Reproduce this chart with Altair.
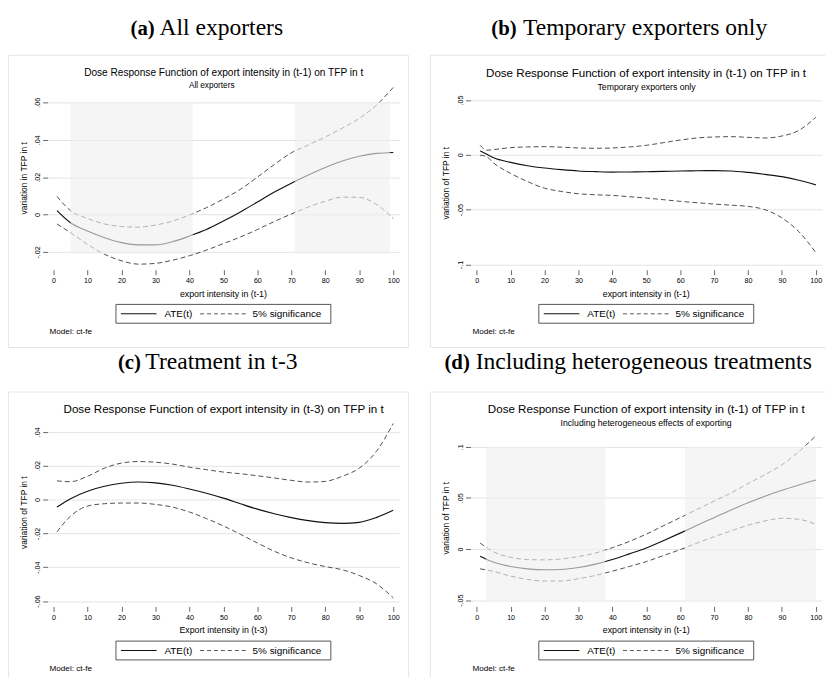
import altair as alt
import pandas as pd

# ---------------- data ----------------
X_TICKS = [0, 10, 20, 30, 40, 50, 60, 70, 80, 90, 100]
LEGEND_LABELS = ["ATE(t)", "5% significance"]
NOTE = "Model: ct-fe"

# (a) All exporters
a_x = [1, 5, 10, 15, 20, 25, 30, 35, 40, 45, 50, 55, 60, 65, 70, 75, 80, 85, 90, 95, 100]
a_ate = [0.0021, -0.0044, -0.0088, -0.0124, -0.0150, -0.0162, -0.0162, -0.0145, -0.0115, -0.0080, -0.0035,
         0.0014, 0.0067, 0.0120, 0.0168, 0.0212, 0.0252, 0.0286, 0.0312, 0.0327, 0.0332]
a_hi = [0.0097, 0.0021, -0.0021, -0.0050, -0.0064, -0.0067, -0.0056, -0.0035, -0.0002, 0.0037, 0.0083,
        0.0135, 0.0200, 0.0268, 0.0330, 0.0372, 0.0415, 0.0462, 0.0514, 0.0584, 0.0680]
a_lo = [-0.0050, -0.0097, -0.0159, -0.0212, -0.0247, -0.0265, -0.0261, -0.0244, -0.0220, -0.0190, -0.0155,
        -0.0120, -0.0080, -0.0037, 0.0003, 0.0040, 0.0071, 0.0093, 0.0092, 0.0055, -0.0021]
a_yticks = [-0.02, 0, 0.02, 0.04, 0.06]
a_shade_from = [5, 71]
a_shade_to = [41, 99]
a_shade_y = [-0.021, 0.06]

# (b) Temporary exporters only
b_x = [1, 3, 5, 10, 15, 20, 25, 30, 35, 40, 45, 50, 55, 60, 65, 70, 75, 80, 85, 90, 95, 100]
b_ate = [0.0036, 0.0005, -0.0027, -0.0069, -0.0099, -0.0120, -0.0135, -0.0147, -0.0153, -0.0157, -0.0156,
         -0.0154, -0.0151, -0.0147, -0.0145, -0.0144, -0.0147, -0.0160, -0.0178, -0.0199, -0.0232, -0.0274]
b_hi = [0.0087, 0.0042, 0.0048, 0.0066, 0.0072, 0.0075, 0.0070, 0.0063, 0.0060, 0.0063, 0.0072,
        0.0087, 0.0111, 0.0135, 0.0154, 0.0163, 0.0166, 0.0160, 0.0154, 0.0172, 0.0223, 0.0343]
b_lo = [-0.0003, -0.0018, -0.0075, -0.0169, -0.0244, -0.0304, -0.0334, -0.0355, -0.0364, -0.0370, -0.0382,
        -0.0394, -0.0409, -0.0424, -0.0437, -0.0449, -0.0459, -0.0470, -0.0500, -0.0575, -0.0701, -0.0891]
b_yticks = [-0.1, -0.05, 0, 0.05]

# (c) Treatment in t-3
c_x = [1, 5, 10, 15, 20, 25, 30, 35, 40, 45, 50, 55, 60, 65, 70, 75, 80, 85, 90, 95, 100]
c_ate = [-0.0045, 0.0005, 0.0049, 0.0078, 0.0096, 0.0103, 0.0098, 0.0084, 0.0062, 0.0037, 0.0008,
         -0.0025, -0.0057, -0.0084, -0.0107, -0.0125, -0.0137, -0.0141, -0.0135, -0.0107, -0.0064]
c_hi = [0.0110, 0.0105, 0.0137, 0.0185, 0.0215, 0.0224, 0.0220, 0.0209, 0.0191, 0.0176, 0.0162,
        0.0152, 0.0140, 0.0127, 0.0113, 0.0103, 0.0107, 0.0137, 0.0185, 0.0283, 0.0449]
c_lo = [-0.0191, -0.0098, -0.0039, -0.0025, -0.0021, -0.0021, -0.0029, -0.0045, -0.0074, -0.0113, -0.0156,
        -0.0205, -0.0257, -0.0306, -0.0345, -0.0374, -0.0396, -0.0415, -0.0449, -0.0497, -0.0581]
c_yticks = [-0.06, -0.04, -0.02, 0, 0.02, 0.04]

# (d) Including heterogeneous treatments
d_x = [1, 5, 10, 15, 20, 25, 30, 35, 40, 45, 50, 55, 60, 65, 70, 75, 80, 85, 90, 95, 100]
d_ate = [-0.0071, -0.0129, -0.0171, -0.0194, -0.0203, -0.0200, -0.0181, -0.0148, -0.0103, -0.0048, 0.0010,
         0.0081, 0.0155, 0.0232, 0.0306, 0.0381, 0.0452, 0.0516, 0.0574, 0.0626, 0.0674]
d_hi = [0.0058, -0.0028, -0.0081, -0.0103, -0.0106, -0.0097, -0.0074, -0.0039, 0.0013, 0.0074, 0.0145,
        0.0226, 0.0306, 0.0387, 0.0468, 0.0548, 0.0639, 0.0726, 0.0823, 0.0952, 0.1106]
d_lo = [-0.0194, -0.0219, -0.0265, -0.0297, -0.0313, -0.0313, -0.0290, -0.0258, -0.0216, -0.0171, -0.0123,
        -0.0065, -0.0006, 0.0058, 0.0119, 0.0177, 0.0232, 0.0274, 0.0300, 0.0290, 0.0242]
d_yticks = [-0.05, 0, 0.05, 0.1]
d_shade_from = [2.7, 61.4]
d_shade_to = [37.9, 100]
d_shade_y = [-0.05, 0.1]

SANS = "Liberation Sans"
SERIF = "Liberation Serif"
W, H = 355, 186

LABEL_EXPR = ("datum.value == 0 ? '0' : (datum.value < 0 ? '-' : '') + "
              "substring(format(abs(datum.value), '.2~f'), 1)")


def one(df_cols):
    return pd.DataFrame(df_cols)


def text_layer(label, x, y, size, align="center", baseline="middle", font=SANS, weight="normal", angle=0):
    kw = dict(align=align, baseline=baseline, font=font, fontSize=size, fontWeight=weight, color="#000")
    if angle:
        kw["angle"] = angle
    return alt.Chart(one({"label": [label]})).mark_text(**kw).encode(
        x=alt.value(x), y=alt.value(y), text="label:N")


def rule_layer(x0, x1, y0, y1, color, width=1.0, dash=None):
    kw = dict(color=color, strokeWidth=width)
    if dash:
        kw["strokeDash"] = dash
    return alt.Chart(one({"k": [0]})).mark_rule(**kw).encode(
        x=alt.value(x0), x2=alt.value(x1), y=alt.value(y0), y2=alt.value(y1))


def panel(xs, ate, hi, lo, xdom, ydom, yticks, cap_bold, cap_rest, title, subtitle, ytitle, xtitle, L,
          shade=None):
    n = len(xs)
    df = pd.DataFrame({"x": xs * 3, "value": ate + hi + lo,
                       "series": ["ATE"] * n + ["upper"] * n + ["lower"] * n})
    X = alt.X("x:Q", title=None,
              scale=alt.Scale(domain=xdom, nice=False, zero=False),
              axis=alt.Axis(values=X_TICKS, grid=False, domain=False, tickSize=5, offset=3,
                            tickColor="#666", tickWidth=1, labelFont=SANS, labelFontSize=7.2,
                            labelColor="#000", labelPadding=2, title=None))
    Y = alt.Y("value:Q", title=None,
              scale=alt.Scale(domain=ydom, nice=False, zero=False),
              axis=alt.Axis(values=yticks, grid=True, gridColor="#e4e4e4", gridWidth=1, domain=False,
                            tickSize=5, tickColor="#666", tickWidth=1, labelAngle=270,
                            labelFont=SANS, labelFontSize=7.2, labelColor="#000", labelPadding=1.5,
                            labelExpr=LABEL_EXPR, title=None))
    base = alt.Chart(df)
    ci = base.transform_filter(alt.datum.series != "ATE").mark_line(
        color="#3c3c3c", strokeWidth=0.9, strokeDash=[5, 3], interpolate="monotone").encode(
        x=X, y=Y, detail="series:N")
    line = base.transform_filter(alt.datum.series == "ATE").mark_line(
        color="#111", strokeWidth=1.15, interpolate="monotone").encode(x=X, y=Y)
    layers = [ci, line]
    if shade is not None:
        s_from, s_to, s_y = shade
        sdf = pd.DataFrame({"x": s_from, "x2": s_to,
                            "value": [s_y[0]] * len(s_from), "value2": [s_y[1]] * len(s_from)})
        layers.append(alt.Chart(sdf).mark_rect(color="#efefef", opacity=0.62).encode(
            x=X, x2="x2:Q", y=Y, y2="value2:Q"))

    # panel frame (very light grey)
    bc = "#e6e6e6"
    bx0, bx1, by0, by1 = L["frame"]
    for side in L["sides"]:
        if side == "top":
            layers.append(rule_layer(bx0, bx1, by0, by0, bc))
        elif side == "bottom":
            layers.append(rule_layer(bx0, bx1, by1, by1, bc))
        elif side == "left":
            layers.append(rule_layer(bx0, bx0, by0, by1, bc))
        elif side == "right":
            layers.append(rule_layer(bx1, bx1, by0, by1, bc))

    # caption above the panel
    layers.append(text_layer(cap_bold, L["cap_b"], L["cap_y"], 21, align="left", baseline="alphabetic",
                             font=SERIF, weight="bold"))
    layers.append(text_layer(cap_rest, L["cap_r"], L["cap_y"], 23.8, align="left", baseline="alphabetic",
                             font=SERIF))
    # graph title / subtitle
    layers.append(text_layer(title, L["tx"], L["ty"], L["tsize"]))
    if subtitle:
        layers.append(text_layer(subtitle, L["sx"], L["sy"], L["ssize"]))
    # axis titles
    layers.append(text_layer(ytitle, L["yx"], L["yy"], 8.5, angle=270))
    layers.append(text_layer(xtitle, 177.5, 213.3, 8.9))
    # legend
    layers.append(alt.Chart(one({"k": [0]})).mark_rect(fill="white", stroke="#555", strokeWidth=1).encode(
        x=alt.value(69), x2=alt.value(286), y=alt.value(224), y2=alt.value(243)))
    layers.append(rule_layer(74, 110, 233.5, 233.5, "#111", 1.1))
    layers.append(rule_layer(154, 200, 233.5, 233.5, "#444", 0.9, [4, 3]))
    layers.append(text_layer(LEGEND_LABELS[0], 118, 233.8, 10, align="left"))
    layers.append(text_layer(LEGEND_LABELS[1], 207, 233.8, 10, align="left"))
    layers.append(text_layer(NOTE, 2, 252.3, 8.2, align="left"))
    if L.get("anchor"):
        layers.append(rule_layer(-39.5, -38.5, -71.5, -71.5, "white", 1.0))
    return alt.layer(*layers).properties(width=W, height=H)


def ydom(zero_px, px_per_unit):
    return [(zero_px - H) / px_per_unit, zero_px / px_per_unit]


La = dict(frame=(-39.5, 364.5, -27.5, 267.5), sides=["top", "bottom", "left", "right"],
          cap_b=83.7, cap_r=113, cap_y=-48.3, tx=177.8, ty=-9.3, tsize=10.2,
          sx=165.7, sy=3.3, ssize=8.3, yx=-24, yy=96.7, anchor=True)
Lb = dict(frame=(-40.5, 358.5, -27.5, 267.5), sides=["top", "bottom", "left"],
          cap_b=21, cap_r=53, cap_y=-48.3, tx=177.3, ty=-9.3, tsize=11.7,
          sx=177.8, sy=5, ssize=8.8, yx=-24.7, yy=101.7)
Lc = dict(frame=(-39.5, 364.5, -27.5, 260.5), sides=["top", "left", "right"],
          cap_b=71, cap_r=98.7, cap_y=-50.7, tx=177.7, ty=-10, tsize=11.7,
          yx=-24, yy=94.3)
Ld = dict(frame=(-40.5, 358.5, -27.5, 260.5), sides=["top", "left"],
          cap_b=-26.3, cap_r=5.3, cap_y=-50.7, tx=177.5, ty=-10, tsize=11.7,
          sx=177.3, sy=3.7, ssize=8.8, yx=-24.7, yy=100)

pa = panel(a_x, a_ate, a_hi, a_lo, [-1.75, 101.75], ydom(133.3, 1889), a_yticks,
           "(a)", "All exporters",
           "Dose Response Function of export intensity in (t-1) on TFP in t", "All exporters",
           "variation in TFP in t", "export intensity in (t-1)", La,
           shade=(a_shade_from, a_shade_to, a_shade_y))
pb = panel(b_x, b_ate, b_hi, b_lo, [-1.84, 101.84], ydom(73, 1106.7), b_yticks,
           "(b)", "Temporary exporters only",
           "Dose Response Function of export intensity in (t-1) on TFP in t", "Temporary exporters only",
           "variation of TFP in t", "export intensity in (t-1)", Lb)
pc = panel(c_x, c_ate, c_hi, c_lo, [-1.75, 101.75], ydom(81, 1710), c_yticks,
           "(c)", "Treatment in t-3",
           "Dose Response Function of export intensity in (t-3) on TFP in t", None,
           "variation of TFP in t", "Export intensity in (t-3)", Lc)
pdd = panel(d_x, d_ate, d_hi, d_lo, [-1.84, 101.84], ydom(131, 1033.3), d_yticks,
            "(d)", "Including heterogeneous treatments",
            "Dose Response Function of export intensity in (t-1) of TFP in t",
            "Including heterogeneous effects of exporting",
            "variation of TFP in t", "export intensity in (t-1)", Ld,
            shade=(d_shade_from, d_shade_to, d_shade_y))

chart = alt.concat(pa, pb, pc, pdd, columns=2, spacing={"row": 154, "column": 72},
                   bounds="flush").properties(padding=0, background="white").configure_view(strokeWidth=0)

chart.save("out.html", embed_options={"renderer": "svg", "actions": False})
